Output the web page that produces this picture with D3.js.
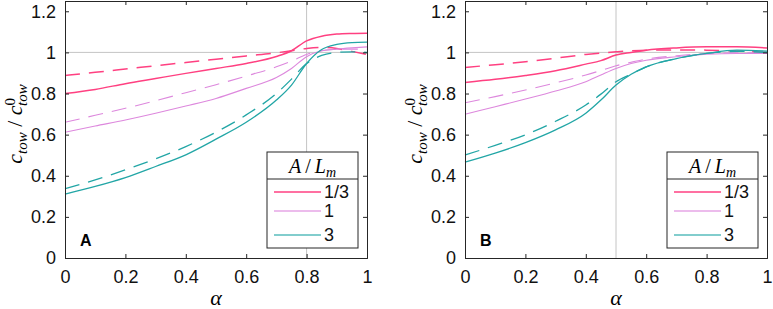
<!DOCTYPE html>
<html>
<head>
<meta charset="utf-8">
<script src="https://cdn.jsdelivr.net/npm/d3@7"></script>
<style>
  body { margin: 0; background: #fff; }
  svg { display: block; }
</style>
</head>
<body>
<div id="wrap"></div>
<script>
// 数据
const seriesNames = ["1/3", "1", "3"];
const seriesColors = ["#ff4081", "#dd88dd", "#22a6a6"];
const seriesWidths = [1.5, 1.1, 1.3];

const alphaA = [0, 0.1, 0.2, 0.3, 0.4, 0.5, 0.6, 0.7, 0.75, 0.8, 0.85, 0.9, 0.95, 1];
const solidA = [
  [0.800, 0.820, 0.848, 0.873, 0.898, 0.922, 0.946, 0.980, 1.008, 1.056, 1.079, 1.089, 1.092, 1.093],
  [0.612, 0.642, 0.671, 0.704, 0.739, 0.776, 0.825, 0.878, 0.922, 0.979, 1.008, 1.016, 1.022, 1.027],
  [0.311, 0.348, 0.391, 0.445, 0.502, 0.578, 0.660, 0.768, 0.841, 0.946, 1.014, 1.039, 1.048, 1.050]
];
const dashedA = [
  [0.888, 0.903, 0.919, 0.935, 0.951, 0.967, 0.983, 0.998, 1.008, 1.019, 1.024, 1.019, 1.005, 0.990],
  [0.660, 0.694, 0.728, 0.765, 0.804, 0.843, 0.885, 0.930, 0.958, 0.990, 1.008, 1.015, 1.016, 1.016],
  [0.337, 0.380, 0.429, 0.482, 0.542, 0.612, 0.696, 0.800, 0.870, 0.946, 0.985, 1.000, 1.003, 1.000]
];

const alphaB = [0, 0.1, 0.2, 0.3, 0.4, 0.45, 0.5, 0.55, 0.6, 0.7, 0.8, 0.9, 1];
const solidB = [
  [0.854, 0.869, 0.888, 0.911, 0.943, 0.960, 0.987, 1.000, 1.011, 1.022, 1.027, 1.027, 1.022],
  [0.699, 0.736, 0.773, 0.812, 0.857, 0.890, 0.922, 0.946, 0.962, 0.979, 0.991, 0.995, 0.995],
  [0.466, 0.510, 0.561, 0.623, 0.704, 0.768, 0.841, 0.894, 0.930, 0.970, 0.995, 1.011, 1.006]
];
const dashedB = [
  [0.927, 0.940, 0.955, 0.972, 0.990, 0.997, 1.003, 1.008, 1.011, 1.012, 1.011, 1.007, 1.000],
  [0.755, 0.785, 0.817, 0.852, 0.890, 0.912, 0.935, 0.952, 0.967, 0.984, 0.995, 0.998, 0.998],
  [0.501, 0.548, 0.599, 0.665, 0.744, 0.797, 0.857, 0.894, 0.930, 0.970, 0.995, 1.005, 1.000]
];

const xTicks = [0, 0.2, 0.4, 0.6, 0.8, 1];
const yTicks = [0, 0.2, 0.4, 0.6, 0.8, 1, 1.2];

const panels = [
  { letter: "A", left: 65, alpha: alphaA, solid: solidA, dashed: dashedA, vline: 0.8 },
  { letter: "B", left: 465, alpha: alphaB, solid: solidB, dashed: dashedB, vline: 0.5 }
];

chart()
function chart(){
  const W = 773, H = 309;
  const PW = 302;        // 坐标区宽度
  const TOP = 1, BOTTOM = 258;
  const AXIS = "#262626";
  const TICK = "Liberation Sans, Arial, sans-serif";
  const MATH = "Liberation Serif, Times New Roman, serif";

  const svg = d3.select('#wrap')
    .append('svg')
    .attr('width', W)
    .attr('height', H)
    .style('background', '#FFFFFF');

  const yScale = d3.scaleLinear().domain([0, 1.25]).range([BOTTOM, TOP]);

  panels.forEach(p => {
    const xScale = d3.scaleLinear().domain([0, 1]).range([p.left, p.left + PW]);
    const g = svg.append('g');

    // 参考线
    g.append('line')
      .attr('x1', xScale(0)).attr('x2', xScale(1))
      .attr('y1', yScale(1)).attr('y2', yScale(1))
      .attr('stroke', '#c4c4c4').attr('stroke-width', 1);
    g.append('line')
      .attr('x1', xScale(p.vline)).attr('x2', xScale(p.vline))
      .attr('y1', yScale(0)).attr('y2', yScale(1.25))
      .attr('stroke', '#c4c4c4').attr('stroke-width', 1);

    const line = d3.line()
      .x((d, i) => xScale(p.alpha[i]))
      .y(d => yScale(d))
      .curve(d3.curveMonotoneX);

    // 虚线在下
    p.dashed.forEach((s, k) => {
      g.append('path')
        .attr('d', line(s))
        .attr('fill', 'none')
        .attr('stroke', seriesColors[k])
        .attr('stroke-width', seriesWidths[k])
        .attr('stroke-dasharray', '15,9');
    });
    p.solid.forEach((s, k) => {
      g.append('path')
        .attr('d', line(s))
        .attr('fill', 'none')
        .attr('stroke', seriesColors[k])
        .attr('stroke-width', seriesWidths[k]);
    });

    // 坐标轴（刻度朝内）
    const xAxis = d3.axisBottom(xScale).tickValues(xTicks).tickSize(-4).tickPadding(12).tickFormat(d3.format('~g'));
    const xAxisTop = d3.axisTop(xScale).tickValues(xTicks).tickSize(-4).tickFormat('');
    const yAxis = d3.axisLeft(yScale).tickValues(yTicks).tickSize(-4).tickPadding(9).tickFormat(d3.format('~g'));
    const yAxisRight = d3.axisRight(yScale).tickValues(yTicks).tickSize(-4).tickFormat('');

    [[xAxis, 0, BOTTOM], [xAxisTop, 0, TOP], [yAxis, p.left, 0], [yAxisRight, p.left + PW, 0]].forEach(a => {
      const ax = g.append('g')
        .attr('transform', 'translate(' + a[1] + ',' + a[2] + ')')
        .call(a[0]);
      ax.select('.domain').attr('stroke', AXIS);
      ax.selectAll('.tick line').attr('stroke', AXIS);
      ax.selectAll('text')
        .attr('fill', '#111')
        .style('font-family', TICK)
        .style('font-size', '18px');
    });

    // 面板字母
    g.append('text')
      .attr('x', p.left + 15).attr('y', 246)
      .style('font-family', TICK).style('font-size', '16px').style('font-weight', 'bold')
      .text(p.letter);

    // x 轴标题
    g.append('text')
      .attr('x', xScale(0.5)).attr('y', 305)
      .attr('text-anchor', 'middle')
      .style('font-family', MATH).style('font-size', '22px').style('font-style', 'italic')
      .text('α');

    // y 轴标题
    const yl = g.append('text')
      .attr('transform', 'translate(' + (p.left - 43) + ',124) rotate(-90)')
      .attr('text-anchor', 'middle')
      .style('font-family', MATH).style('font-size', '22px').style('font-style', 'italic');
    yl.append('tspan').text('c');
    yl.append('tspan').attr('dy', 5).style('font-size', '15px').text('tow');
    yl.append('tspan').attr('dy', -5).style('font-style', 'normal').text(' / ');
    yl.append('tspan').text('c');
    yl.append('tspan').attr('dy', -7).style('font-size', '15px').style('font-style', 'normal').text('0');
    yl.append('tspan').attr('dx', -8).attr('dy', 12).style('font-size', '15px').text('tow');

    // 图例
    const lx = p.left + 202, ly = 152, lw = 91, lh = 96;
    const lg = g.append('g');
    lg.append('rect')
      .attr('x', lx).attr('y', ly).attr('width', lw).attr('height', lh)
      .attr('fill', '#fff').attr('stroke', AXIS).attr('stroke-width', 1);
    lg.append('line')
      .attr('x1', lx).attr('x2', lx + lw).attr('y1', ly + 27).attr('y2', ly + 27)
      .attr('stroke', AXIS);
    const hd = lg.append('text')
      .attr('x', lx + lw / 2).attr('y', ly + 21)
      .attr('text-anchor', 'middle')
      .style('font-family', MATH).style('font-size', '20px').style('font-style', 'italic');
    hd.append('tspan').text('A');
    hd.append('tspan').style('font-style', 'normal').text('\u2009/\u2009');
    hd.append('tspan').text('L');
    hd.append('tspan').attr('dy', 4).style('font-size', '14px').text('m');

    const rows = [40, 59, 83];
    seriesNames.forEach((n, k) => {
      lg.append('line')
        .attr('x1', lx + 7).attr('x2', lx + 54)
        .attr('y1', ly + rows[k]).attr('y2', ly + rows[k])
        .attr('stroke', seriesColors[k])
        .attr('stroke-opacity', 0.75)
        .attr('stroke-width', seriesWidths[k] + 0.4);
      lg.append('text')
        .attr('x', lx + 57).attr('y', ly + rows[k] + 6)
        .style('font-family', TICK).style('font-size', '18px')
        .attr('fill', '#111')
        .text(n);
    });
  });
}
</script>
</body>
</html>
